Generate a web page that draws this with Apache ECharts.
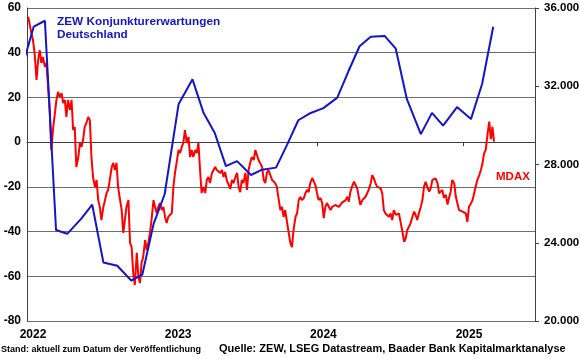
<!DOCTYPE html>
<html>
<head>
<meta charset="utf-8">
<script src="https://cdn.jsdelivr.net/npm/echarts@6/dist/echarts.min.js"></script>
<style>
html,body{margin:0;padding:0;background:#fff;}
#chart{width:580px;height:359px;}
</style>
</head>
<body>
<div id="chart"></div>
<script>
// ZEW Konjunkturerwartungen Deutschland (release dates, saldo)
const zewDates = ['2021-12-14','2022-01-18','2022-02-15','2022-03-15','2022-04-12','2022-05-17','2022-06-14','2022-07-12','2022-08-16','2022-09-20','2022-10-18','2022-11-15','2022-12-13',
  '2023-01-17','2023-02-21','2023-03-21','2023-04-18','2023-05-16','2023-06-13','2023-07-18','2023-08-15','2023-09-19','2023-10-17','2023-11-14','2023-12-12',
  '2024-01-16','2024-02-20','2024-03-19','2024-04-16','2024-05-14','2024-06-18','2024-07-16','2024-08-13','2024-09-17','2024-10-15','2024-11-12','2024-12-17',
  '2025-01-21','2025-02-18','2025-03-18'];
const zewValues = [29.9,51.7,54.3,-39.3,-41.0,-34.3,-28.0,-53.8,-55.3,-61.9,-59.2,-36.7,-23.3,
  16.9,28.1,13.0,4.1,-10.7,-8.5,-14.7,-12.3,-11.4,-1.1,9.8,12.8,
  15.2,19.9,31.7,42.9,47.1,47.5,41.8,19.2,3.6,13.1,7.4,15.7,
  10.3,26.0,51.6];

// MDAX (index points)
const mdaxDates = [
 '2022-01-04','2022-01-08','2022-01-12','2022-01-16','2022-01-20',
 '2022-01-25','2022-01-29','2022-02-02','2022-02-06','2022-02-10',
 '2022-02-15','2022-02-19','2022-02-23','2022-02-27','2022-03-03',
 '2022-03-08','2022-03-12','2022-03-16','2022-03-20','2022-03-24',
 '2022-03-29','2022-04-02','2022-04-06','2022-04-10','2022-04-14',
 '2022-04-19','2022-04-23','2022-04-27','2022-05-01','2022-05-05',
 '2022-05-10','2022-05-14','2022-05-18','2022-05-22','2022-05-26',
 '2022-05-31','2022-06-04','2022-06-08','2022-06-12','2022-06-16',
 '2022-06-21','2022-06-25','2022-06-29','2022-07-03','2022-07-07',
 '2022-07-12','2022-07-16','2022-07-20','2022-07-24','2022-07-28',
 '2022-08-02','2022-08-06','2022-08-10','2022-08-14','2022-08-18',
 '2022-08-23','2022-08-27','2022-08-31','2022-09-04','2022-09-08',
 '2022-09-13','2022-09-17','2022-09-21','2022-09-25','2022-09-29',
 '2022-10-04','2022-10-08','2022-10-12','2022-10-16','2022-10-20',
 '2022-10-25','2022-10-29','2022-11-02','2022-11-06','2022-11-10',
 '2022-11-15','2022-11-19','2022-11-23','2022-11-27','2022-12-01',
 '2022-12-06','2022-12-10','2022-12-14','2022-12-18','2022-12-22',
 '2022-12-27','2022-12-31','2023-01-04','2023-01-08','2023-01-12',
 '2023-01-17','2023-01-21','2023-01-25','2023-01-29','2023-02-02',
 '2023-02-07','2023-02-11','2023-02-15','2023-02-19','2023-02-23',
 '2023-02-28','2023-03-04','2023-03-08','2023-03-12','2023-03-16',
 '2023-03-21','2023-03-25','2023-03-29','2023-04-02','2023-04-06',
 '2023-04-11','2023-04-15','2023-04-19','2023-04-23','2023-04-27',
 '2023-05-02','2023-05-06','2023-05-10','2023-05-14','2023-05-18',
 '2023-05-23','2023-05-27','2023-05-31','2023-06-04','2023-06-08',
 '2023-06-13','2023-06-17','2023-06-21','2023-06-25','2023-06-29',
 '2023-07-04','2023-07-08','2023-07-12','2023-07-16','2023-07-20',
 '2023-07-25','2023-07-29','2023-08-02','2023-08-06','2023-08-10',
 '2023-08-15','2023-08-19','2023-08-23','2023-08-27','2023-08-31',
 '2023-09-05','2023-09-09','2023-09-13','2023-09-17','2023-09-21',
 '2023-09-26','2023-09-30','2023-10-04','2023-10-08','2023-10-12',
 '2023-10-17','2023-10-21','2023-10-25','2023-10-29','2023-11-02',
 '2023-11-07','2023-11-11','2023-11-15','2023-11-19','2023-11-23',
 '2023-11-28','2023-12-02','2023-12-06','2023-12-10','2023-12-14',
 '2023-12-19','2023-12-23','2023-12-27','2023-12-31','2024-01-04',
 '2024-01-09','2024-01-13','2024-01-17','2024-01-21','2024-01-25',
 '2024-01-30','2024-02-03','2024-02-07','2024-02-11','2024-02-15',
 '2024-02-20','2024-02-24','2024-02-28','2024-03-03','2024-03-07',
 '2024-03-12','2024-03-16','2024-03-20','2024-03-24','2024-03-28',
 '2024-04-02','2024-04-06','2024-04-10','2024-04-14','2024-04-18',
 '2024-04-23','2024-04-27','2024-05-01','2024-05-05','2024-05-09',
 '2024-05-14','2024-05-18','2024-05-22','2024-05-26','2024-05-30',
 '2024-06-04','2024-06-08','2024-06-12','2024-06-16','2024-06-20',
 '2024-06-25','2024-06-29','2024-07-03','2024-07-07','2024-07-11',
 '2024-07-16','2024-07-20','2024-07-24','2024-07-28','2024-08-01',
 '2024-08-06','2024-08-10','2024-08-14','2024-08-18','2024-08-22',
 '2024-08-27','2024-08-31','2024-09-04','2024-09-08','2024-09-12',
 '2024-09-17','2024-09-21','2024-09-25','2024-09-29','2024-10-03',
 '2024-10-08','2024-10-12','2024-10-16','2024-10-20','2024-10-24',
 '2024-10-29','2024-11-02','2024-11-06','2024-11-10','2024-11-14',
 '2024-11-19','2024-11-23','2024-11-27','2024-12-01','2024-12-05',
 '2024-12-10','2024-12-14','2024-12-18','2024-12-22','2024-12-26',
 '2024-12-31','2025-01-04','2025-01-08','2025-01-12','2025-01-16',
 '2025-01-21','2025-01-25','2025-01-29','2025-02-02','2025-02-06',
 '2025-02-11','2025-02-15','2025-02-19','2025-02-23','2025-02-27',
 '2025-03-04','2025-03-08','2025-03-12','2025-03-16','2025-03-20'
];
const mdaxValues = [
 35555,35130,34720,34360,33700,
 32320,33340,33850,33190,33500,
 32990,33190,31960,30790,28740,
 29920,30600,31300,31710,31450,
 31650,31140,31300,30430,31300,
 30790,31300,29760,29920,27870,
 28380,29100,28900,29250,29920,
 30170,30430,30270,28380,27360,
 26850,27210,26180,25830,25160,
 25830,26180,26540,26700,27210,
 27870,28080,27720,28080,26850,
 26180,25670,24500,25160,25830,
 26180,23990,23780,22450,21840,
 23480,22250,21940,22960,23270,
 24140,23630,23990,24500,25160,
 26180,25830,25520,25830,26030,
 25670,25830,25320,25010,25320,
 25260,25520,26850,27570,28080,
 28740,28590,28900,29100,29760,
 29100,29410,28380,28740,28380,
 28740,28590,29100,27720,26540,
 26850,26540,27210,27360,27050,
 27570,27720,27870,27720,27820,
 27570,27720,27360,27620,27200,
 27300,26750,27210,27050,27310,
 27570,26850,26590,27210,27050,
 27570,26700,27720,28080,28380,
 28230,28740,28840,28230,28080,
 27870,27210,27050,27570,27720,
 27820,27210,27310,27050,26850,
 26180,25670,25830,25320,25670,
 25010,24500,23990,23780,24650,
 25320,25520,26180,26340,26180,
 26290,26540,26700,26590,27050,
 27310,27210,26950,26540,26180,
 26290,26030,25260,25830,26030,
 25830,25670,25830,25770,25930,
 25880,25830,25900,26050,26100,
 26180,26350,26100,26610,26870,
 27120,27040,26780,26350,25930,
 26180,26100,26350,26530,26700,
 27040,27460,27290,27040,26870,
 26950,26780,26530,25670,25500,
 25590,25330,25500,25160,25670,
 25420,25330,25500,25070,24650,
 24050,24230,24650,24820,24990,
 25330,25590,25420,25160,25500,
 25840,26180,26870,27120,26870,
 26610,26780,27210,27120,27290,
 27040,26530,26500,26700,26300,
 26450,25950,26300,26610,27210,
 27040,26350,26010,25670,25760,
 25590,25670,25500,25070,25840,
 26010,26180,26530,26870,27210,
 27460,27720,28060,28570,28740,
 29590,30190,29300,29930,29170
];

const leftTicks = {min: -80, max: 60, step: 20};
const rightTicks = {min: 20000, max: 36000, step: 4000};
const xRange = {min: '2022-01-01', max: '2025-07-01'};

const titleText = 'ZEW Konjunkturerwartungen\nDeutschland';
const mdaxLabel = 'MDAX';
const footLeft = 'Stand: aktuell zum Datum der Veröffentlichung';
const footRight = 'Quelle: ZEW, LSEG Datastream, Baader Bank Kapitalmarktanalyse';

const FONT = '"Liberation Sans", Arial, sans-serif';
const BLUE = '#1414c8';
const RED = '#ff0000';

const zewData = zewDates.map((d, i) => [d, zewValues[i]]);
const mdaxData = mdaxDates.map((d, i) => [d, mdaxValues[i]]);

const chart = echarts.init(document.getElementById('chart'), null, {renderer: 'canvas'});
chart.setOption({
  animation: false,
  backgroundColor: '#fff',
  grid: {left: 27, right: 45, top: 8, bottom: 38, containLabel: false, outerBoundsMode: 'none'},
  xAxis: {
    type: 'time',
    min: xRange.min,
    max: xRange.max,
    minInterval: 365 * 24 * 3600 * 1000,
    maxInterval: 366 * 24 * 3600 * 1000,
    axisLine: {show: true, lineStyle: {color: '#404040', width: 1}},
    axisTick: {show: true, length: 4, lineStyle: {color: '#404040'}},
    splitLine: {show: false},
    axisLabel: {
      show: true, color: '#000', fontFamily: FONT, fontWeight: 'bold', fontSize: 12,
      margin: 8, padding: [0, 0, 0, 12], showMaxLabel: false, showMinLabel: true,
      formatter: '{yyyy}'
    }
  },
  yAxis: [
    {
      type: 'value', position: 'left',
      min: leftTicks.min, max: leftTicks.max, interval: leftTicks.step,
      axisLine: {show: true, lineStyle: {color: '#404040', width: 1}},
      axisTick: {show: false},
      splitLine: {show: true, lineStyle: {color: '#6e6e6e', width: 1}},
      axisLabel: {color: '#000', fontFamily: FONT, fontWeight: 'bold', fontSize: 12, margin: 6}
    },
    {
      type: 'value', position: 'right',
      min: rightTicks.min, max: rightTicks.max, interval: rightTicks.step,
      axisLine: {show: true, lineStyle: {color: '#404040', width: 1}},
      axisTick: {show: true, length: 4, inside: false, lineStyle: {color: '#404040'}},
      splitLine: {show: false},
      axisLabel: {
        color: '#000', fontFamily: FONT, fontWeight: 'bold', fontSize: 11.5, margin: 9,
        formatter: v => String(v).replace(/\B(?=(\d{3})+(?!\d))/g, '.')
      }
    }
  ],
  series: [
    {
      name: 'MDAX', type: 'line', yAxisIndex: 1, data: mdaxData,
      showSymbol: false, symbol: 'none', clip: true,
      lineStyle: {color: RED, width: 2}, z: 2
    },
    {
      name: 'ZEW', type: 'line', yAxisIndex: 0, data: zewData,
      showSymbol: false, symbol: 'none', clip: true,
      lineStyle: {color: BLUE, width: 2}, z: 3
    }
  ],
  graphic: [
    {type: 'text', left: 57, top: 15, style: {text: titleText, fill: BLUE, font: 'bold 11.8px ' + FONT, lineHeight: 13}},
    {type: 'text', left: 496, top: 171, style: {text: mdaxLabel, fill: RED, font: 'bold 11.5px ' + FONT}},
    {type: 'text', left: 1, top: 345, style: {text: footLeft, fill: '#000', font: 'bold 9px ' + FONT}},
    {type: 'text', left: 219, top: 343, style: {text: footRight, fill: '#000', font: 'bold 11px ' + FONT}}
  ]
});
</script>
</body>
</html>
